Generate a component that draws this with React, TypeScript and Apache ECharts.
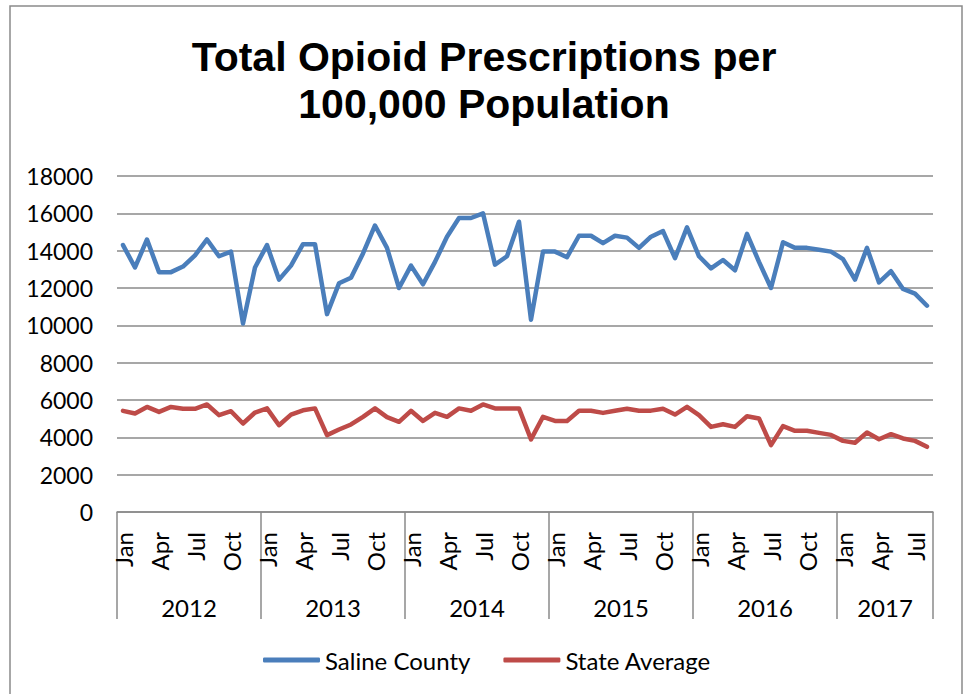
import React, { useEffect, useRef } from 'react';
import * as echarts from 'echarts';

const years = ['2012', '2013', '2014', '2015', '2016', '2017'];
const monthNames = ['Jan', 'Feb', 'Mar', 'Apr', 'May', 'Jun', 'Jul', 'Aug', 'Sep', 'Oct', 'Nov', 'Dec'];
const monthsPerYear = [12, 12, 12, 12, 12, 8];

const salineCounty = [
  14300, 13100, 14600, 12850, 12850, 13150, 13750, 14600, 13700, 13950, 10100, 13100,
  14300, 12450, 13200, 14350, 14350, 10600, 12250, 12550, 13850, 15350, 14150, 12000,
  13200, 12200, 13400, 14750, 15750, 15750, 16000, 13250, 13700, 15550, 10300, 13950,
  13950, 13650, 14800, 14800, 14400, 14800, 14700, 14150, 14750, 15050, 13600, 15250,
  13700, 13050, 13500, 12950, 14900, 13400, 12000, 14450, 14150, 14150, 14050, 13950,
  13550, 12450, 14150, 12300, 12900, 11950, 11700, 11050,
];

const stateAverage = [
  5420, 5280, 5630, 5360, 5630, 5530, 5530, 5760, 5190, 5400, 4740, 5330,
  5550, 4650, 5220, 5450, 5550, 4120, 4420, 4690, 5100, 5550, 5080, 4830,
  5420, 4880, 5310, 5100, 5550, 5420, 5760, 5550, 5550, 5550, 3890, 5100,
  4880, 4880, 5420, 5420, 5310, 5420, 5530, 5420, 5430, 5530, 5220, 5630,
  5190, 4560, 4700, 4560, 5130, 5010, 3580, 4600, 4350, 4350, 4240, 4130,
  3810, 3710, 4260, 3900, 4170, 3940, 3810, 3490,
];

const seriesNames = ['Saline County', 'State Average'];
const titleLines = ['Total Opioid Prescriptions per', '100,000 Population'];
const yMin = 0;
const yMax = 18000;
const yInterval = 2000;

const FONT = 'Lato';
const TITLE_FONT = 'Liberation Sans';
const GRAY = '#8a8a8a';

export default function App() {
  const ref = useRef<HTMLDivElement>(null);

  useEffect(() => {
    if (!ref.current) return;
    const chart = echarts.init(ref.current, null, { renderer: 'svg' });

    const categories: string[] = [];
    years.forEach((y, yi) => {
      for (let m = 0; m < monthsPerYear[yi]; m++) categories.push(monthNames[m] + ' ' + y);
    });
    const boundaries: number[] = [0];
    let acc = 0;
    monthsPerYear.forEach((n) => {
      acc += n;
      boundaries.push(acc);
    });
    const yearCenters = years.map((_, i) => (boundaries[i] + boundaries[i + 1]) / 2);

    const titleStyle = {
      fontFamily: TITLE_FONT,
      fontWeight: 'bold',
      fontSize: 41,
      lineHeight: 46,
      color: '#000',
    };

    chart.setOption({
      animation: false,
      backgroundColor: '#ffffff',
      title: titleLines.map((t, i) => ({
        text: t,
        left: 'center',
        top: 34 + i * 47,
        padding: 0,
        textStyle: titleStyle,
      })),
      graphic: [
        {
          type: 'rect',
          silent: true,
          z: -1,
          shape: { x: 10, y: 6, width: 952, height: 700 },
          style: { fill: 'none', stroke: GRAY, lineWidth: 1.5 },
        },
      ],
      legend: {
        data: seriesNames,
        left: 263,
        top: 648,
        padding: 0,
        icon: 'roundRect',
        itemWidth: 57,
        itemHeight: 5,
        itemGap: 33,
        textStyle: { fontFamily: FONT, fontSize: 24, color: '#000' },
      },
      grid: { left: 117, right: 35, top: 176, bottom: 182, containLabel: false },
      xAxis: [
        {
          type: 'category',
          data: categories,
          boundaryGap: true,
          axisLine: { show: true, lineStyle: { color: GRAY, width: 1.5 } },
          axisTick: { show: false },
          splitLine: { show: false },
          axisLabel: {
            interval: 2,
            rotate: 90,
            margin: 20,
            fontFamily: FONT,
            fontSize: 24,
            color: '#000',
            formatter: (v: string) => v.split(' ')[0],
          },
        },
        {
          type: 'value',
          min: 0,
          max: boundaries[boundaries.length - 1],
          position: 'bottom',
          offset: 0,
          axisLine: { show: false },
          splitLine: { show: false },
          axisTick: {
            show: true,
            customValues: boundaries,
            length: 107,
            lineStyle: { color: GRAY, width: 1.5 },
          },
          axisLabel: {
            show: true,
            customValues: yearCenters,
            margin: 83,
            fontFamily: FONT,
            fontSize: 24,
            color: '#000',
            formatter: (v: number) => {
              const i = yearCenters.indexOf(v);
              return i >= 0 ? years[i] : '';
            },
          },
        },
      ],
      yAxis: {
        type: 'value',
        min: yMin,
        max: yMax,
        interval: yInterval,
        axisLine: { show: false },
        axisTick: { show: false },
        splitLine: { show: true, lineStyle: { color: GRAY, width: 1.5 } },
        axisLabel: {
          margin: 24,
          fontFamily: FONT,
          fontSize: 23,
          color: '#000',
          formatter: (v: number) => String(v),
        },
      },
      series: [
        {
          name: seriesNames[0],
          type: 'line',
          data: salineCounty,
          xAxisIndex: 0,
          symbol: 'none',
          color: '#4a7ebb',
          lineStyle: { width: 4.5, color: '#4a7ebb', join: 'round', cap: 'round' },
        },
        {
          name: seriesNames[1],
          type: 'line',
          data: stateAverage,
          xAxisIndex: 0,
          symbol: 'none',
          color: '#be4b48',
          lineStyle: { width: 4.5, color: '#be4b48', join: 'round', cap: 'round' },
        },
      ],
    });

    return () => chart.dispose();
  }, []);

  return (
    <div
      ref={ref}
      style={{ position: 'absolute', left: 0, top: 0, width: 968, height: 694 }}
    />
  );
}
